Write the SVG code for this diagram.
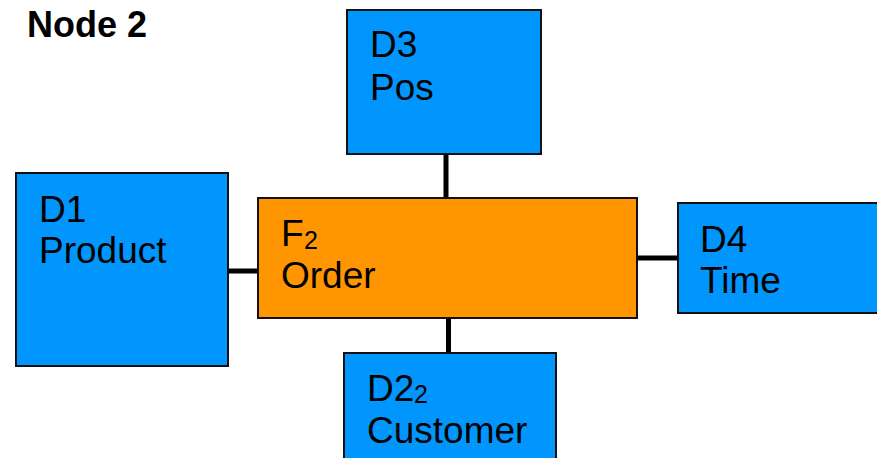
<svg xmlns="http://www.w3.org/2000/svg" width="877" height="458" viewBox="0 0 877 458">
  <style>
    .dim { fill: #0096fd; stroke: #111; stroke-width: 2; }
    .fact { fill: #ff9500; stroke: #111; stroke-width: 2; }
    .lbl { font-family: "Liberation Sans", Arial, sans-serif; font-size: 37px; fill: #000; }
    .lbl tspan.sub { font-size: 25px; }
    .title { font-family: "Liberation Sans", Arial, sans-serif; font-size: 36px; font-weight: bold; fill: #000; }
    .link { stroke: #000; stroke-width: 5; fill: none; }
  </style>
  <rect width="877" height="458" fill="#fff"/>

  <text class="title" x="27" y="37">Node 2</text>

  <!-- connectors between the fact table and its dimensions -->
  <g id="connectors">
    <line class="link" x1="446" y1="154" x2="446" y2="199"/>
    <line class="link" x1="228" y1="271" x2="259" y2="271"/>
    <line class="link" x1="637" y1="258" x2="678" y2="258"/>
    <line class="link" x1="448.5" y1="318" x2="448.5" y2="353"/>
  </g>

  <g id="d3-pos">
    <rect class="dim" x="347" y="10" width="194" height="144"/>
    <text class="lbl" x="370" y="57">D3</text>
    <text class="lbl" x="370" y="100">Pos</text>
  </g>

  <g id="d1-product">
    <rect class="dim" x="16" y="173" width="212" height="193"/>
    <text class="lbl" x="39" y="222">D1</text>
    <text class="lbl" x="39" y="263">Product</text>
  </g>

  <g id="f2-order">
    <rect class="fact" x="258" y="198" width="379" height="120"/>
    <text class="lbl" x="281" y="246">F<tspan class="sub" x="304" y="249">2</tspan></text>
    <text class="lbl" x="281" y="288">Order</text>
  </g>

  <g id="d4-time">
    <rect class="dim" x="678" y="203" width="220" height="110"/>
    <text class="lbl" x="700" y="252">D4</text>
    <text class="lbl" x="700" y="293">Time</text>
  </g>

  <g id="d2-customer">
    <rect class="dim" x="344" y="353" width="212" height="120"/>
    <text class="lbl" x="367" y="401">D2<tspan class="sub" x="414" y="403">2</tspan></text>
    <text class="lbl" x="367" y="443">Customer</text>
  </g>
</svg>
